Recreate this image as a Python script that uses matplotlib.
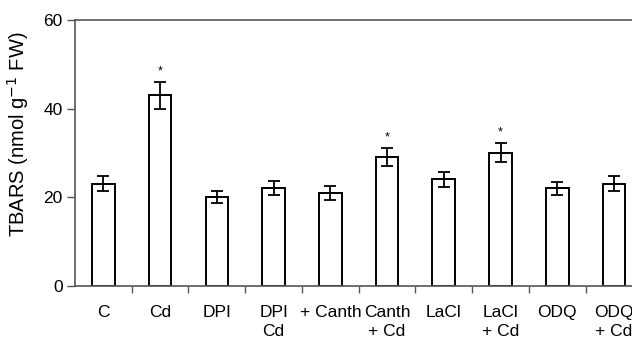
import numpy as np
from matplotlib import pyplot as plt

plt.rcParams["font.family"] = ["Liberation Sans", "DejaVu Sans"]

categories = ["C", "Cd", "DPI", "DPI\nCd", "+ Canth", "Canth\n+ Cd",
              "LaCl", "LaCl\n+ Cd", "ODQ", "ODQ\n+ Cd"]
tbars = [23.1, 43.0, 20.1, 22.1, 21.0, 29.1, 24.1, 30.1, 22.0, 23.1]
errors = [1.7, 3.0, 1.4, 1.6, 1.5, 2.0, 1.7, 2.1, 1.5, 1.7]
significant = [False, True, False, False, False, True, False, True, False, False]


def main():
    fig = plt.figure(figsize=(6.32, 3.4), dpi=100)
    # the source image cuts off the right edge of the axes
    ax = fig.add_axes([75 / 632, 54 / 340, 567.4 / 632, 266 / 340])

    x = np.arange(len(categories))
    ax.bar(x, tbars, width=0.4, color="white", edgecolor="black",
           linewidth=1.4, zorder=2)
    ax.errorbar(x, tbars, yerr=errors, fmt="none", ecolor="black",
                elinewidth=1.3, capsize=4, capthick=1.3, zorder=3)
    for xi, v, e, s in zip(x, tbars, errors, significant):
        if s:
            ax.text(xi, v + e + 1.0, "*", ha="center", va="bottom", fontsize=9)

    ax.set_xlim(-0.5, len(categories) - 0.5)
    ax.set_ylim(0, 60)
    ax.set_yticks([0, 20, 40, 60])
    ax.set_xticks(x)
    ax.set_xticklabels(categories, fontsize=12.5, linespacing=1.3)
    ax.set_xticks(np.arange(0.5, len(categories), 1), minor=True)
    ax.tick_params(axis="x", which="major", length=0, pad=14)
    ax.tick_params(axis="x", which="minor", length=5, width=1, color="#555555",
                   direction="out")
    ax.tick_params(axis="y", length=6, width=1, color="#555555", labelsize=12.5,
                   pad=3)
    for side in ["left", "bottom", "top", "right"]:
        ax.spines[side].set_color("#555555")
        ax.spines[side].set_linewidth(1.2)
    ax.set_ylabel("TBARS (nmol g$^{-1}$ FW)", fontsize=14.5)
    ax.yaxis.set_label_coords(-0.077, 0.57)

    plt.savefig("out.png", dpi=100)


if __name__ == "__main__":
    main()
